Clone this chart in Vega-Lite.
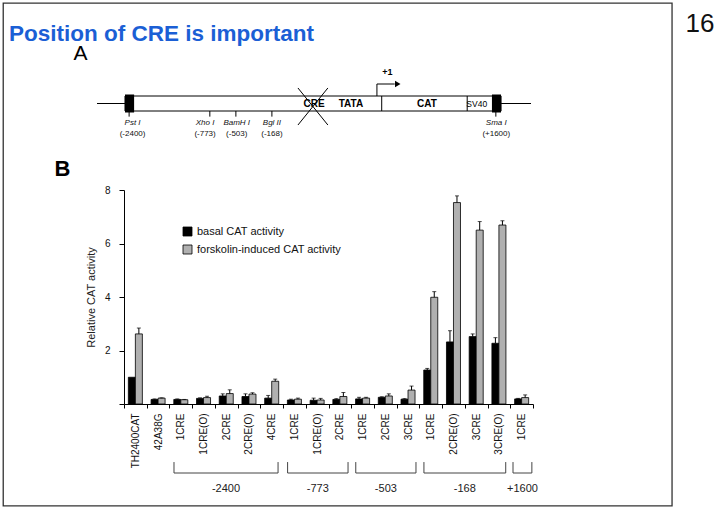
{
  "$schema": "https://vega.github.io/schema/vega-lite/v6.json",
  "width": 718,
  "height": 510,
  "padding": 0,
  "autosize": {"type": "none"},
  "background": "white",
  "config": {"view": {"stroke": null}, "font": "Liberation Sans", "axis": {"grid": false}},
  "datasets": {
    "cat": [
      {"id": "TH2400CAT|a", "series": "basal CAT activity", "value": 1.0, "hi": 1.0},
      {"id": "TH2400CAT|a", "series": "forskolin-induced CAT activity", "value": 2.62, "hi": 2.84},
      {"id": "42A38G|b", "series": "basal CAT activity", "value": 0.17, "hi": 0.19},
      {"id": "42A38G|b", "series": "forskolin-induced CAT activity", "value": 0.22, "hi": 0.23},
      {"id": "1CRE|-2400", "series": "basal CAT activity", "value": 0.17, "hi": 0.19},
      {"id": "1CRE|-2400", "series": "forskolin-induced CAT activity", "value": 0.16, "hi": 0.17},
      {"id": "1CRE(O)|-2400", "series": "basal CAT activity", "value": 0.21, "hi": 0.23},
      {"id": "1CRE(O)|-2400", "series": "forskolin-induced CAT activity", "value": 0.24, "hi": 0.29},
      {"id": "2CRE|-2400", "series": "basal CAT activity", "value": 0.30, "hi": 0.38},
      {"id": "2CRE|-2400", "series": "forskolin-induced CAT activity", "value": 0.39, "hi": 0.53},
      {"id": "2CRE(O)|-2400", "series": "basal CAT activity", "value": 0.28, "hi": 0.38},
      {"id": "2CRE(O)|-2400", "series": "forskolin-induced CAT activity", "value": 0.37, "hi": 0.42},
      {"id": "4CRE|-2400", "series": "basal CAT activity", "value": 0.22, "hi": 0.32},
      {"id": "4CRE|-2400", "series": "forskolin-induced CAT activity", "value": 0.85, "hi": 0.93},
      {"id": "1CRE|-773", "series": "basal CAT activity", "value": 0.15, "hi": 0.18},
      {"id": "1CRE|-773", "series": "forskolin-induced CAT activity", "value": 0.18, "hi": 0.22},
      {"id": "1CRE(O)|-773", "series": "basal CAT activity", "value": 0.14, "hi": 0.22},
      {"id": "1CRE(O)|-773", "series": "forskolin-induced CAT activity", "value": 0.15, "hi": 0.21},
      {"id": "2CRE|-773", "series": "basal CAT activity", "value": 0.17, "hi": 0.20},
      {"id": "2CRE|-773", "series": "forskolin-induced CAT activity", "value": 0.28, "hi": 0.43},
      {"id": "1CRE|-503", "series": "basal CAT activity", "value": 0.19, "hi": 0.25},
      {"id": "1CRE|-503", "series": "forskolin-induced CAT activity", "value": 0.22, "hi": 0.25},
      {"id": "2CRE|-503", "series": "basal CAT activity", "value": 0.25, "hi": 0.27},
      {"id": "2CRE|-503", "series": "forskolin-induced CAT activity", "value": 0.30, "hi": 0.38},
      {"id": "3CRE|-503", "series": "basal CAT activity", "value": 0.18, "hi": 0.20},
      {"id": "3CRE|-503", "series": "forskolin-induced CAT activity", "value": 0.52, "hi": 0.67},
      {"id": "1CRE|-168", "series": "basal CAT activity", "value": 1.27, "hi": 1.33},
      {"id": "1CRE|-168", "series": "forskolin-induced CAT activity", "value": 3.99, "hi": 4.20},
      {"id": "2CRE(O)|-168", "series": "basal CAT activity", "value": 2.32, "hi": 2.74},
      {"id": "2CRE(O)|-168", "series": "forskolin-induced CAT activity", "value": 7.53, "hi": 7.78},
      {"id": "3CRE|-168", "series": "basal CAT activity", "value": 2.52, "hi": 2.62},
      {"id": "3CRE|-168", "series": "forskolin-induced CAT activity", "value": 6.50, "hi": 6.82},
      {"id": "3CRE(O)|-168", "series": "basal CAT activity", "value": 2.27, "hi": 2.48},
      {"id": "3CRE(O)|-168", "series": "forskolin-induced CAT activity", "value": 6.69, "hi": 6.85},
      {"id": "1CRE|+1600", "series": "basal CAT activity", "value": 0.19, "hi": 0.21},
      {"id": "1CRE|+1600", "series": "forskolin-induced CAT activity", "value": 0.24, "hi": 0.34}
    ],
    "groups": [
      {"label": "-2400", "x0": 2.2, "x1": 6.78},
      {"label": "-773", "x0": 7.2, "x1": 9.86},
      {"label": "-503", "x0": 10.2, "x1": 12.85},
      {"label": "-168", "x0": 13.2, "x1": 16.8},
      {"label": "+1600", "x0": 17.12, "x1": 17.95}
    ],
    "sites": [
      {"name": "Pst I", "num": "(-2400)", "x": 7.4, "lx": 8.2},
      {"name": "Xho I", "num": "(-773)", "x": 26.0, "lx": 24.9},
      {"name": "BamH I", "num": "(-503)", "x": 32.0, "lx": 32.2},
      {"name": "Bgl II", "num": "(-168)", "x": 40.3, "lx": 40.3},
      {"name": "Sma I", "num": "(+1600)", "x": 91.9, "lx": 92.0}
    ],
    "lines": [
      {"x0": 65.6, "x1": 65.6, "y0": -1, "y1": 1},
      {"x0": 85.3, "x1": 85.3, "y0": -1, "y1": 1},
      {"x0": 46.3, "x1": 53.2, "y0": 2.07, "y1": -2.87},
      {"x0": 46.3, "x1": 53.2, "y0": -2.87, "y1": 2.07},
      {"x0": 64.5, "x1": 64.5, "y0": 1, "y1": 2.6},
      {"x0": 64.5, "x1": 68.6, "y0": 2.6, "y1": 2.6}
    ],
    "blocks": [
      {"x0": 6.45, "x1": 8.55, "y0": -1.2, "y1": 1.2},
      {"x0": 91.0, "x1": 93.1, "y0": -1.2, "y1": 1.2}
    ],
    "boxlabels": [
      {"t": "CRE", "x": 50.0},
      {"t": "TATA", "x": 58.5},
      {"t": "CAT", "x": 76.0}
    ]
  },
  "layer": [
    {
      "data": {"name": "cat"},
      "layer": [
        {
          "mark": {"type": "bar", "stroke": "#000", "strokeWidth": 0.8},
          "encoding": {
            "x": {"field": "id", "type": "nominal", "title": null,
              "scale": {"domain": ["TH2400CAT|a", "42A38G|b", "1CRE|-2400", "1CRE(O)|-2400", "2CRE|-2400", "2CRE(O)|-2400", "4CRE|-2400", "1CRE|-773", "1CRE(O)|-773", "2CRE|-773", "1CRE|-503", "2CRE|-503", "3CRE|-503", "1CRE|-168", "2CRE(O)|-168", "3CRE|-168", "3CRE(O)|-168", "1CRE|+1600"], "range": [124, 533], "paddingInner": 0, "paddingOuter": 0},
              "axis": {"orient": "bottom", "offset": -106, "labelAngle": 270, "labelExpr": "split(datum.label, '|')[0]", "labelFontSize": 10, "labelColor": "#111", "labelPadding": 5, "tickBand": "extent", "tickSize": 4, "tickColor": "#000", "domainColor": "#000"}},
            "xOffset": {"field": "series", "type": "nominal", "sort": null, "scale": {"paddingInner": 0, "paddingOuter": 0.62}},
            "y": {"field": "value", "type": "quantitative", "title": "Relative CAT activity",
              "scale": {"domain": [0, 8], "range": [404, 190], "nice": false},
              "axis": {"orient": "left", "offset": -124, "values": [0, 2, 4, 6, 8], "format": "d", "labelExpr": "datum.value == 0 ? '' : datum.label", "titleFontSize": 11, "titleFontWeight": "normal", "titleColor": "#222", "titlePadding": 8, "tickSize": 5, "labelFontSize": 10, "labelPadding": 9, "domainColor": "#000", "tickColor": "#000", "labelColor": "#111"}},
            "color": {"field": "series", "type": "nominal",
              "scale": {"domain": ["basal CAT activity", "forskolin-induced CAT activity"], "range": ["#000000", "#b0b0b0"]},
              "legend": {"orient": "none", "legendX": 182, "legendY": 226, "title": null, "symbolType": "square", "symbolSize": 81, "symbolStrokeColor": "#000", "symbolStrokeWidth": 0.8, "labelFontSize": 11, "labelOffset": 4, "rowPadding": 5, "padding": 0, "labelColor": "#111"}}
          }
        },
        {
          "transform": [{"filter": "datum.hi > datum.value"}],
          "mark": {"type": "rule", "color": "#000", "strokeWidth": 1},
          "encoding": {
            "x": {"field": "id", "type": "nominal", "title": null},
            "xOffset": {"field": "series", "type": "nominal", "sort": null},
            "y": {"field": "value", "type": "quantitative", "title": "Relative CAT activity"},
            "y2": {"field": "hi"}
          }
        },
        {
          "transform": [{"filter": "datum.hi > datum.value"}],
          "mark": {"type": "tick", "orient": "horizontal", "size": 4, "thickness": 1, "color": "#000"},
          "encoding": {
            "x": {"field": "id", "type": "nominal", "title": null},
            "xOffset": {"field": "series", "type": "nominal", "sort": null},
            "y": {"field": "hi", "type": "quantitative", "title": "Relative CAT activity"}
          }
        }
      ]
    },
    {
      "data": {"name": "groups"},
      "transform": [{"calculate": "(datum.x0 + datum.x1) / 2", "as": "mid"}],
      "layer": [
        {
          "mark": {"type": "rule", "color": "#444", "strokeWidth": 1},
          "encoding": {
            "x": {"field": "x0", "type": "quantitative", "scale": {"domain": [0, 18], "range": [124, 533], "nice": false, "zero": false}, "axis": null},
            "x2": {"field": "x1"},
            "y": {"datum": -2.58, "type": "quantitative", "scale": {"domain": [0, 8], "range": [404, 190], "nice": false}, "axis": null}
          }
        },
        {
          "mark": {"type": "rule", "color": "#444", "strokeWidth": 1},
          "encoding": {
            "x": {"field": "x0", "type": "quantitative", "axis": null},
            "y": {"datum": -2.17, "type": "quantitative", "axis": null},
            "y2": {"datum": -2.58}
          }
        },
        {
          "mark": {"type": "rule", "color": "#444", "strokeWidth": 1},
          "encoding": {
            "x": {"field": "x1", "type": "quantitative", "axis": null},
            "y": {"datum": -2.17, "type": "quantitative", "axis": null},
            "y2": {"datum": -2.58}
          }
        },
        {
          "mark": {"type": "text", "fontSize": 11, "color": "#222", "baseline": "middle", "align": "center"},
          "encoding": {
            "x": {"field": "mid", "type": "quantitative", "axis": null},
            "y": {"datum": -3.18, "type": "quantitative", "axis": null},
            "text": {"field": "label"}
          }
        }
      ]
    },
    {
      "layer": [
        {
          "data": {"values": [{"x0": 0, "x1": 100}]},
          "mark": {"type": "rule", "color": "#000", "strokeWidth": 1},
          "encoding": {
            "x": {"field": "x0", "type": "quantitative", "scale": {"domain": [0, 100], "range": [97, 531], "nice": false, "zero": false}, "axis": null},
            "x2": {"field": "x1"},
            "y": {"datum": 0, "type": "quantitative", "scale": {"domain": [-5, 5], "range": [141, 66], "nice": false, "zero": false}, "axis": null}
          }
        },
        {
          "data": {"values": [{"x0": 6.45, "x1": 93.1}]},
          "mark": {"type": "rect", "fill": "#fff", "stroke": "#000", "strokeWidth": 1},
          "encoding": {
            "x": {"field": "x0", "type": "quantitative", "axis": null},
            "x2": {"field": "x1"},
            "y": {"datum": -1, "type": "quantitative", "axis": null},
            "y2": {"datum": 1}
          }
        },
        {
          "data": {"name": "blocks"},
          "mark": {"type": "rect", "fill": "#000"},
          "encoding": {
            "x": {"field": "x0", "type": "quantitative", "axis": null},
            "x2": {"field": "x1"},
            "y": {"field": "y0", "type": "quantitative", "axis": null},
            "y2": {"field": "y1"}
          }
        },
        {
          "data": {"name": "boxlabels"},
          "mark": {"type": "text", "fontSize": 10, "fontWeight": "bold", "color": "#000", "baseline": "middle", "align": "center"},
          "encoding": {
            "x": {"field": "x", "type": "quantitative", "axis": null},
            "y": {"datum": -0.1, "type": "quantitative", "axis": null},
            "text": {"field": "t"}
          }
        },
        {
          "data": {"values": [{"t": "SV40", "x": 87.5}]},
          "mark": {"type": "text", "fontSize": 8.5, "color": "#000", "baseline": "middle", "align": "center"},
          "encoding": {
            "x": {"field": "x", "type": "quantitative", "axis": null},
            "y": {"datum": -0.1, "type": "quantitative", "axis": null},
            "text": {"field": "t"}
          }
        },
        {
          "data": {"values": [{"t": "+1", "x": 66.9}]},
          "mark": {"type": "text", "fontSize": 9, "fontWeight": "bold", "color": "#000", "baseline": "middle", "align": "center"},
          "encoding": {
            "x": {"field": "x", "type": "quantitative", "axis": null},
            "y": {"datum": 4.2, "type": "quantitative", "axis": null},
            "text": {"field": "t"}
          }
        },
        {
          "data": {"name": "lines"},
          "mark": {"type": "rule", "color": "#000", "strokeWidth": 1},
          "encoding": {
            "x": {"field": "x0", "type": "quantitative", "axis": null},
            "x2": {"field": "x1"},
            "y": {"field": "y0", "type": "quantitative", "axis": null},
            "y2": {"field": "y1"}
          }
        },
        {
          "data": {"values": [{"x": 69.3, "y": 2.6}]},
          "mark": {"type": "point", "shape": "triangle-right", "size": 40, "filled": true, "color": "#000", "opacity": 1},
          "encoding": {
            "x": {"field": "x", "type": "quantitative", "axis": null},
            "y": {"field": "y", "type": "quantitative", "axis": null}
          }
        },
        {
          "data": {"name": "sites"},
          "mark": {"type": "rule", "color": "#000", "strokeWidth": 1},
          "encoding": {
            "x": {"field": "x", "type": "quantitative", "axis": null},
            "y": {"datum": -1, "type": "quantitative", "axis": null},
            "y2": {"datum": -1.75}
          }
        },
        {
          "data": {"name": "sites"},
          "mark": {"type": "text", "fontSize": 8, "fontStyle": "italic", "color": "#111", "baseline": "middle", "align": "center"},
          "encoding": {
            "x": {"field": "lx", "type": "quantitative", "axis": null},
            "y": {"datum": -2.6, "type": "quantitative", "axis": null},
            "text": {"field": "name"}
          }
        },
        {
          "data": {"name": "sites"},
          "mark": {"type": "text", "fontSize": 8, "color": "#111", "baseline": "middle", "align": "center"},
          "encoding": {
            "x": {"field": "lx", "type": "quantitative", "axis": null},
            "y": {"datum": -4.0, "type": "quantitative", "axis": null},
            "text": {"field": "num"}
          }
        }
      ]
    },
    {
      "layer": [
        {
          "data": {"values": [{"x0": 0.45, "x1": 93.6, "y0": 0.6, "y1": 99.2}]},
          "mark": {"type": "rect", "filled": false, "stroke": "#333", "strokeWidth": 1.3},
          "encoding": {
            "x": {"field": "x0", "type": "quantitative", "scale": {"domain": [0, 100], "range": [0, 718], "nice": false, "zero": false}, "axis": null},
            "x2": {"field": "x1"},
            "y": {"field": "y0", "type": "quantitative", "scale": {"domain": [0, 100], "range": [0, 510], "nice": false, "zero": false}, "axis": null},
            "y2": {"field": "y1"}
          }
        },
        {
          "data": {"values": [{"t": "Position of CRE is important", "x": 1.25, "y": 8.0}]},
          "mark": {"type": "text", "fontSize": 22.5, "fontWeight": "bold", "color": "#1b5fd5", "align": "left", "baseline": "alphabetic"},
          "encoding": {
            "x": {"field": "x", "type": "quantitative", "axis": null},
            "y": {"field": "y", "type": "quantitative", "axis": null},
            "text": {"field": "t"}
          }
        },
        {
          "data": {"values": [{"t": "16", "x": 97.5, "y": 6.3}]},
          "mark": {"type": "text", "fontSize": 26, "color": "#111", "align": "center", "baseline": "alphabetic"},
          "encoding": {
            "x": {"field": "x", "type": "quantitative", "axis": null},
            "y": {"field": "y", "type": "quantitative", "axis": null},
            "text": {"field": "t"}
          }
        },
        {
          "data": {"values": [{"t": "A", "x": 11.2, "y": 11.8}]},
          "mark": {"type": "text", "fontSize": 21, "color": "#000", "align": "center", "baseline": "alphabetic"},
          "encoding": {
            "x": {"field": "x", "type": "quantitative", "axis": null},
            "y": {"field": "y", "type": "quantitative", "axis": null},
            "text": {"field": "t"}
          }
        },
        {
          "data": {"values": [{"t": "B", "x": 8.7, "y": 34.5}]},
          "mark": {"type": "text", "fontSize": 22, "fontWeight": "bold", "color": "#000", "align": "center", "baseline": "alphabetic"},
          "encoding": {
            "x": {"field": "x", "type": "quantitative", "axis": null},
            "y": {"field": "y", "type": "quantitative", "axis": null},
            "text": {"field": "t"}
          }
        }
      ]
    }
  ],
  "resolve": {"scale": {"x": "independent", "y": "independent"}}
}
